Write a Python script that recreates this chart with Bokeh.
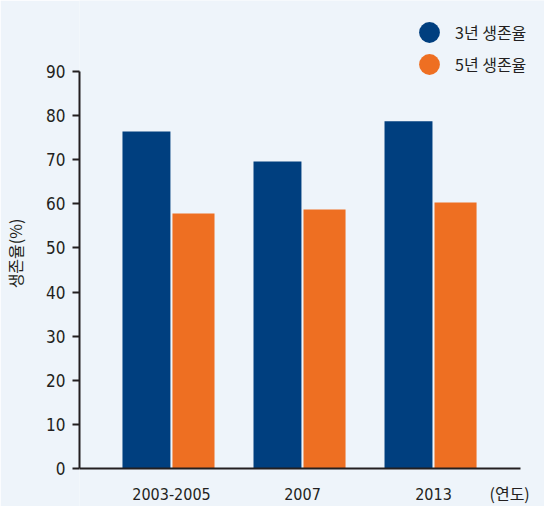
from bokeh.plotting import figure
from bokeh.models import Range1d, FixedTicker, Legend, LegendItem, Label
from bokeh.embed import file_html
from bokeh.resources import INLINE

# data
years = ["2003-2005", "2007", "2013"]
rate_3yr = [76.4, 69.6, 78.7]
rate_5yr = [57.8, 58.7, 60.3]
y_ticks = [0, 10, 20, 30, 40, 50, 60, 70, 80, 90]
series_names = ["3년 생존율", "5년 생존율"]

BG = "#eef4fa"
NAVY = "#003f7f"
ORANGE = "#ee6f22"
INK = "#231f20"
NUM_FONT = "DejaVu Sans Condensed"
KR_FONT = "Noto Sans CJK KR"

idx = list(range(len(years)))

# frame covers top, bottom and right edges so the legend and the
# "(연도)" label are not clipped; the axes are cut back with bounds
p = figure(width=544, height=506,
           x_range=Range1d(-0.702, 2.847), y_range=Range1d(-8.61, 106.1),
           output_backend="svg", toolbar_location=None,
           min_border_left=79, min_border_top=0,
           min_border_bottom=0, min_border_right=0,
           background_fill_color=BG, border_fill_color=BG,
           outline_line_color=None)
p.grid.visible = False

# bars: navy a bit wider than orange, as in the original
p.vbar(x=[i - 0.191 for i in idx], width=0.366, bottom=0, top=rate_3yr,
       fill_color=NAVY, line_color=None)
p.vbar(x=[i + 0.168 for i in idx], width=0.321, bottom=0, top=rate_5yr,
       fill_color=ORANGE, line_color=None)

# y axis
ya = p.yaxis[0]
ya.bounds = (0, 90)
ya.ticker = FixedTicker(ticks=y_ticks)
ya.axis_line_width = 2
ya.axis_line_color = INK
ya.major_tick_line_color = INK
ya.major_tick_line_width = 2
ya.major_tick_out = 7
ya.major_tick_in = 0
ya.minor_tick_line_color = None
ya.major_label_text_font = NUM_FONT
ya.major_label_text_font_size = "17px"
ya.major_label_text_color = INK
ya.major_label_standoff = 7
ya.axis_label = "생존율(%)"
ya.axis_label_text_font = KR_FONT
ya.axis_label_text_font_size = "16px"
ya.axis_label_text_font_style = "normal"
ya.axis_label_text_color = INK
ya.axis_label_standoff = 16

# x axis sits at y = 0 inside the frame
xa = p.xaxis[0]
xa.fixed_location = 0
xa.bounds = (-0.702, 2.664)
xa.ticker = FixedTicker(ticks=idx)
xa.major_label_overrides = {i: y for i, y in zip(idx, years)}
xa.axis_line_width = 2
xa.axis_line_color = INK
xa.major_tick_line_color = None
xa.minor_tick_line_color = None
xa.major_label_text_font = NUM_FONT
xa.major_label_text_font_size = "16px"
xa.major_label_text_color = INK
xa.major_label_standoff = 13

p.add_layout(Label(x=410, y=26, x_units="screen", y_units="screen",
                   text="(연도)", text_font=KR_FONT, text_font_size="16px",
                   text_color=INK, text_baseline="top"))

# legend: one circle + label per series, stacked top-right
nan = float("nan")
d3 = p.scatter(x=[nan], y=[nan], marker="circle", fill_color=NAVY, line_color=None)
d5 = p.scatter(x=[nan], y=[nan], marker="circle", fill_color=ORANGE, line_color=None)
for name, rend, ybot in zip(series_names, [d3, d5], [448, 416]):
    lg = Legend(items=[LegendItem(label=name, renderers=[rend], index=0)],
                location=(324, ybot), glyph_width=52, glyph_height=52,
                label_height=52, label_standoff=-8, padding=0, margin=0,
                border_line_color=None, background_fill_alpha=0,
                label_text_font=KR_FONT, label_text_font_size="16px",
                label_text_color=INK, label_text_baseline="middle")
    p.add_layout(lg)

open("out.html", "w").write(file_html(p, INLINE))
